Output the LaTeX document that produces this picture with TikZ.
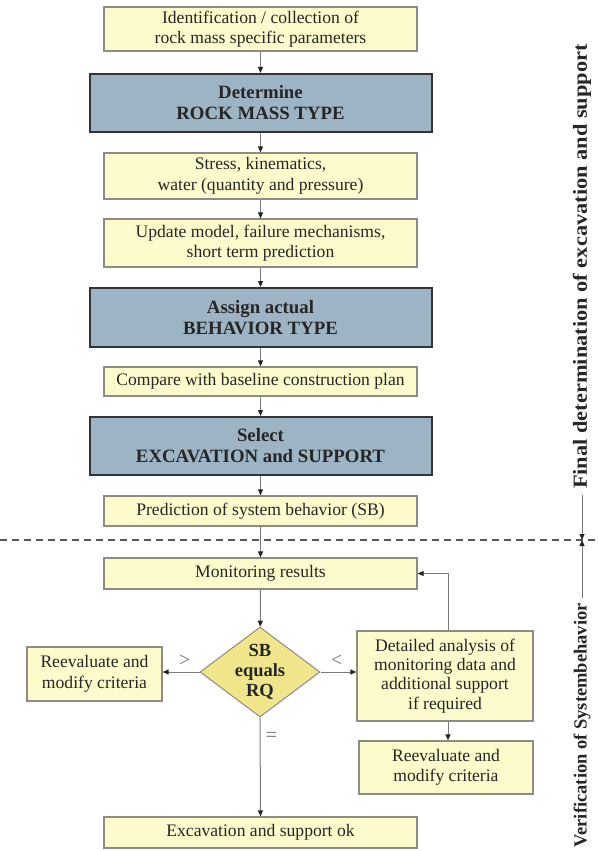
\documentclass[tikz,border=0pt]{standalone}
\usepackage{fontspec}
\setmainfont{Liberation Serif}
\usetikzlibrary{shapes.geometric,arrows.meta}
\definecolor{ybox}{HTML}{FDFBCB}
\definecolor{yline}{HTML}{8C8C84}
\definecolor{bbox}{HTML}{9DB4C5}
\definecolor{bline}{HTML}{333333}
\definecolor{dfill}{HTML}{EFE68C}
\definecolor{connc}{HTML}{7A7A7A}
\definecolor{txt}{HTML}{262626}
\begin{document}
\begin{tikzpicture}[x=1pt,y=-1pt,
  ybx/.style={draw=yline, line width=1.2pt, fill=ybox, minimum width=313pt, align=center, text=txt,
    font=\fontsize{17.6}{20.5}\selectfont, inner sep=0pt},
  bbx/.style={draw=bline, line width=2pt, fill=bbox, minimum width=342pt, align=center, text=txt,
    font=\bfseries\fontsize{18.8}{21}\selectfont, inner sep=0pt},
  cn/.style={draw=connc, line width=1pt, -{Triangle[length=6pt,width=5pt,fill=black!85,color=black!85]}},
  side/.style={rotate=90, text=txt, inner sep=5pt},
  sgn/.style={text=black!55, font=\fontsize{20}{20}\selectfont}
]
\useasboundingbox[fill=white] (0,0) rectangle (598,851);

\node[ybx, minimum height=44pt] (n1) at (260.5,29) {Identification / collection of\\rock mass specific parameters};
\node[bbx, minimum height=58pt] (b1) at (260.5,103) {Determine\\ROCK MASS TYPE};
\node[ybx, minimum height=46pt] (n3) at (260.5,176) {Stress, kinematics,\\water (quantity and pressure)};
\node[ybx, minimum height=48pt] (n4) at (260.5,243) {Update model, failure mechanisms,\\short term prediction};
\node[bbx, minimum height=59pt] (b2) at (260.5,317.5) {Assign actual\\BEHAVIOR TYPE};
\node[ybx, minimum height=29pt] (n5) at (260.5,381.5) {Compare with baseline construction plan};
\node[bbx, minimum height=58pt] (b3) at (260.5,446) {Select\\EXCAVATION and SUPPORT};
\node[ybx, minimum height=30pt] (n6) at (260.5,511) {Prediction of system behavior (SB)};

\coordinate (dl) at (0,540);
\coordinate (dr) at (598,540);
\draw[dash pattern=on 7pt off 5pt, line width=1.3pt, color=black!65] (dl) -- (dr);

\node[ybx, minimum height=31pt] (mon) at (260.5,573.5) {Monitoring results};
\node[diamond, draw=yline, line width=1pt, fill=dfill, minimum width=120pt, minimum height=90pt, inner sep=0pt] (dia) at (260,672) {};
\node[align=center, text=txt, font=\bfseries\fontsize{18.5}{20}\selectfont, inner sep=0pt] (diat) at (260,672) {SB\\equals\\RQ};
\node[ybx, minimum width=135pt, minimum height=54pt] (lft) at (94.5,674) {Reevaluate and\\modify criteria};
\node[ybx, minimum width=176pt, minimum height=90pt, font=\fontsize{17.6}{19.3}\selectfont] (det) at (445,676) {Detailed analysis of\\monitoring data and\\additional support\\if required};
\node[ybx, minimum width=174pt, minimum height=53pt] (rgt) at (446,767.5) {Reevaluate and\\modify criteria};
\node[ybx, minimum height=31pt] (exc) at (260.5,832.5) {Excavation and support ok};

\draw[cn] (n1) -- (b1);
\draw[cn] (b1) -- (n3);
\draw[cn] (n3) -- (n4);
\draw[cn] (n4) -- (b2);
\draw[cn] (b2) -- (n5);
\draw[cn] (n5) -- (b3);
\draw[cn] (b3) -- (n6);
\draw[cn] (n6) -- (mon);
\draw[cn] (mon) -- (dia);
\draw[cn] (dia.west) -- (dia.west -| lft.east) node[sgn, pos=0.4, above=2pt] {>};
\draw[cn] (dia.east) -- (dia.east -| det.west) node[sgn, pos=0.45, above=2pt] {<};
\draw[cn] (dia.south) -- (exc.north) node[sgn, pos=0.2, right=2pt] {=};
\coordinate (fbx) at (448,0);
\draw[cn] (fbx |- det.north) |- (mon.east);
\draw[cn] (fbx |- det.south) -- (fbx |- rgt.north);

\coordinate (divR) at (582,540);
\node[side, xscale=1.12, font=\bfseries\fontsize{20}{20}\selectfont] (fin) at (582,266.5) {Final determination of excavation and support};
\node[side, anchor=east, font=\bfseries\fontsize{18.5}{18.5}\selectfont] (ver) at (582,598) {Verification of Systembehavior};
\draw[cn] (fin.west) -- (divR);
\draw[cn] (ver.east) -- (divR);
\end{tikzpicture}
\end{document}
